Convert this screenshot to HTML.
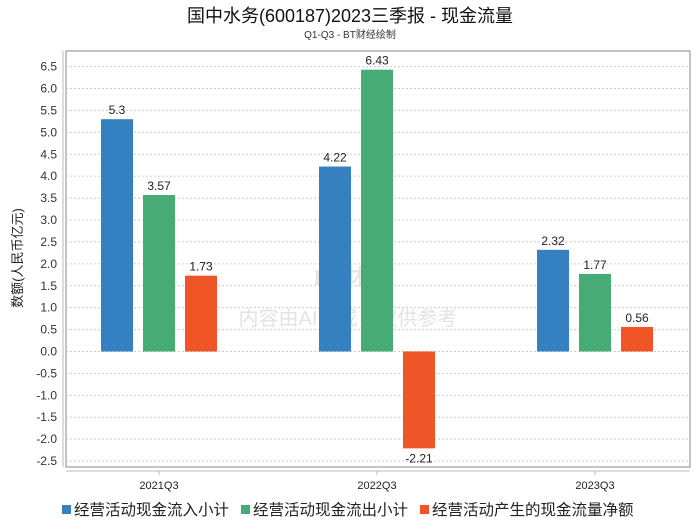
<!DOCTYPE html>
<html><head><meta charset="utf-8"><style>
body{margin:0;background:#fff;font-family:"Liberation Sans","Noto Sans CJK SC",sans-serif}
</style></head><body>
<svg id="chart" width="700" height="524" xmlns="http://www.w3.org/2000/svg" font-family="Liberation Sans, Noto Sans CJK SC, sans-serif">
<text x="350" y="22" text-anchor="middle" font-size="18" fill="#111">国中水务(600187)2023三季报 - 现金流量</text>
<text x="350" y="38" text-anchor="middle" font-size="10" fill="#333">Q1-Q3 - BT财经绘制</text>
<rect x="66" y="51" width="624" height="416" fill="none" stroke="#888"/>
<line x1="63" y1="51" x2="63" y2="467" stroke="#bbb"/>
<line x1="66" y1="471" x2="690" y2="471" stroke="#bbb"/>
<g id="grid"></g>
<text x="350" y="285" text-anchor="middle" font-size="22" fill="#e6e6e6" font-weight="bold" font-family="Liberation Serif, serif">BT财经</text>
<text x="348" y="325" text-anchor="middle" font-size="20" fill="#e3e3e3">内容由AI生成，仅供参考</text>
<g id="bars"></g><g id="labels"></g>
<text transform="translate(22,258) rotate(-90)" text-anchor="middle" font-size="13" fill="#222">数额(人民币亿元)</text>
<g id="legend"></g>
</svg>
<script>
const categories=["2021Q3","2022Q3","2023Q3"];
const seriesNames=["经营活动现金流入小计","经营活动现金流出小计","经营活动产生的现金流量净额"];
const inflow=[5.3,4.22,2.32];
const outflow=[3.57,6.43,1.77];
const net=[1.73,-2.21,0.56];
const yTicks=["6.5","6.0","5.5","5.0","4.5","4.0","3.5","3.0","2.5","2.0","1.5","1.0","0.5","0.0","-0.5","-1.0","-1.5","-2.0","-2.5"];
const colors=["#3580c0","#46ab74","#f05528"];
const NS="http://www.w3.org/2000/svg";
const y=v=>351.5-v*43.83;
const x=i=>159+i*218;
function mk(t,a,p){const e=document.createElementNS(NS,t);for(const k in a)e.setAttribute(k,a[k]);document.getElementById(p).appendChild(e);return e;}
yTicks.forEach(t=>{const v=parseFloat(t);
const l=mk('line',{x1:66,x2:690,y1:y(v),y2:y(v),stroke:'#ccc','stroke-dasharray':'2,2'},'grid');


const tx=mk('text',{x:57,y:y(v)+4,'text-anchor':'end','font-size':12,fill:'#333'},'grid');tx.textContent=t;

});
categories.forEach((c,i)=>{const tk=mk('line',{x1:x(i),x2:x(i),y1:471,y2:475,stroke:'#bbb'},'grid');


const t=mk('text',{x:x(i),y:489,'text-anchor':'middle','font-size':11,fill:'#222'},'grid');t.textContent=c;

});
[inflow,outflow,net].forEach((s,si)=>{s.forEach((v,i)=>{const cx=x(i)+(si-1)*42;
const top=Math.min(y(v),y(0)),h=Math.abs(y(v)-y(0));
const r=mk('rect',{x:cx-16,y:top,width:32,height:h,fill:colors[si]},'bars');


const t=mk('text',{x:cx,y:v>=0?y(v)-5:y(v)+14,'text-anchor':'middle','font-size':12,fill:'#222'},'labels');t.textContent=String(v);

});});
const lx=[62,241,420];
seriesNames.forEach((n,i)=>{const r=mk('rect',{x:lx[i],y:505,width:9,height:9,fill:colors[i]},'legend');


const t=mk('text',{x:lx[i]+12,y:515,'font-size':15.5,fill:'#222'},'legend');t.textContent=n;

});
</script>
</body></html>
